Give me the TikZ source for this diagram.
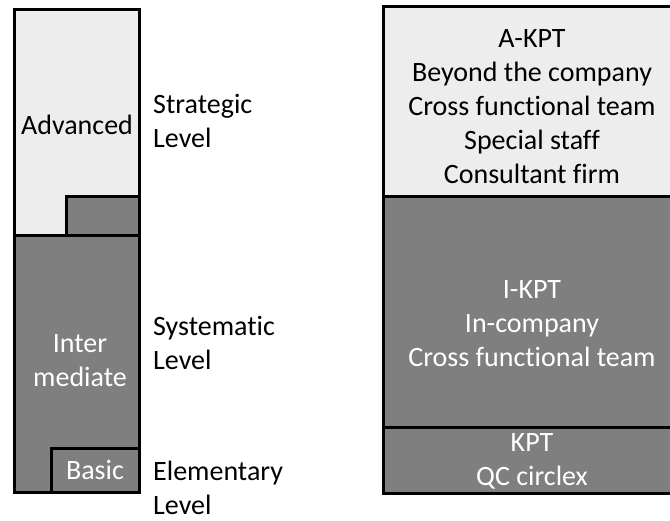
\documentclass[tikz,border=0pt]{standalone}
\usepackage{fontspec}
\setmainfont{Carlito}[Ligatures=NoCommon]
\definecolor{paleblock}{HTML}{EDEDED}
\definecolor{darkblock}{HTML}{7F7F7F}
\begin{document}
\begin{tikzpicture}[x=1pt,y=-1pt,
  block/.style={line width=3pt,draw=black},
  light/.style={block,fill=paleblock},
  dark/.style={block,fill=darkblock},
  lbl/.style={font=\fontsize{28}{34}\selectfont,align=center,inner sep=0pt},
  side/.style={font=\fontsize{28}{34}\selectfont,align=left,anchor=west,inner sep=0pt}]
\useasboundingbox (0,0) rectangle (670,520);
\clip (0,0) rectangle (670,520);
% left column: competence pyramid
\draw[light] (14,9) rectangle (139,235);
\draw[dark] (66,196) rectangle (139,235);
\draw[dark] (14,235) rectangle (139,492);
\draw[dark] (51,448) rectangle (139,492);
\node[lbl] (adv) at (77,125) {Advanced};
\node[lbl,text=white] (inter) at (80,361) {Inter\\mediate};
\node[lbl,text=white] (basic) at (95,470) {Basic};
% level captions
\node[side] (strat) at (153,121) {Strategic\\Level};
\node[side] (syst) at (153,343) {Systematic\\Level};
\node[side] (elem) at (153,488) {Elementary\\Level};
% right column: team types
\draw[light] (383,6) rectangle (682,196);
\draw[dark] (383,196) rectangle (682,427);
\draw[dark] (383,427) rectangle (682,493);
\node[lbl] (akpt) at (532,107) {A-KPT\\Beyond the company\\Cross functional team\\Special staff\\Consultant firm};
\node[lbl,text=white] (ikpt) at (532,324) {I-KPT\\In-company\\Cross functional team};
\node[lbl,text=white] (kpt) at (532,461) {KPT\\QC circlex};
\end{tikzpicture}
\end{document}
